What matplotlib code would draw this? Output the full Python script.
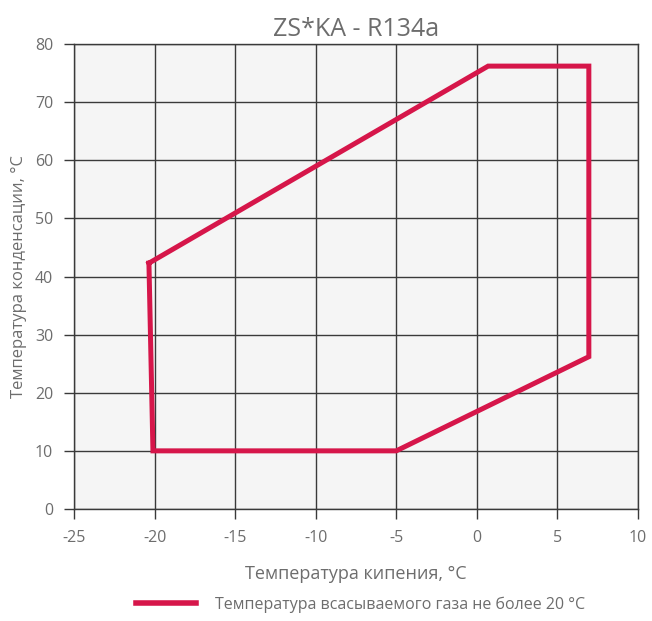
import numpy as np
import matplotlib.pyplot as plt
from matplotlib.lines import Line2D

plt.rcParams['font.family'] = ['Open Sans', 'DejaVu Sans']
plt.rcParams['axes.unicode_minus'] = False

# данные области работы / envelope data
t_evap = [-20.35, 0.7, 6.95, 6.95, -5.0, -20.1, -20.35]
t_cond = [42.3, 76.2, 76.2, 26.2, 10.0, 10.0, 42.3]
x_ticks = [-25, -20, -15, -10, -5, 0, 5, 10]
y_ticks = [0, 10, 20, 30, 40, 50, 60, 70, 80]
title = 'ZS*KA - R134a'
x_label = 'Температура кипения, °C'
y_label = 'Температура конденсации, °C'
series_name = 'Температура всасываемого газа не более 20 °C'

txt = '#6d6d6d'
red = '#d6164a'

fig = plt.figure(figsize=(6.52, 6.21), dpi=100)
ax = fig.add_axes([0.1135, 0.1804, 0.865, 0.7487])
ax.set_facecolor('#f5f5f5')

ax.plot(t_evap, t_cond, color=red, lw=3.6, solid_joinstyle='miter', zorder=3)

ax.set_xlim(-25, 10)
ax.set_ylim(0, 80)
ax.set_xticks(x_ticks)
ax.set_yticks(y_ticks)
ax.grid(True, color='#3a3a3a', lw=1.0)
ax.set_axisbelow(True)
for s in ax.spines.values():
    s.set_color('#3a3a3a')
    s.set_linewidth(1.0)
ax.tick_params(colors='#3a3a3a', labelcolor=txt, labelsize=11.5, length=7, width=1, pad=8)

ax.set_title(title, fontsize=18, color=txt, pad=6)
ax.set_xlabel(x_label, fontsize=13, color=txt, labelpad=14)
ax.set_ylabel(y_label, fontsize=12, color=txt, labelpad=6)

handle = Line2D([], [], color=red, lw=4)
fig.legend([handle], [series_name], loc='center', bbox_to_anchor=(0.553, 0.026),
           frameon=False, fontsize=11.5, handlelength=3.8, handletextpad=1.2,
           labelcolor=txt)

fig.savefig('out.png', dpi=100)
